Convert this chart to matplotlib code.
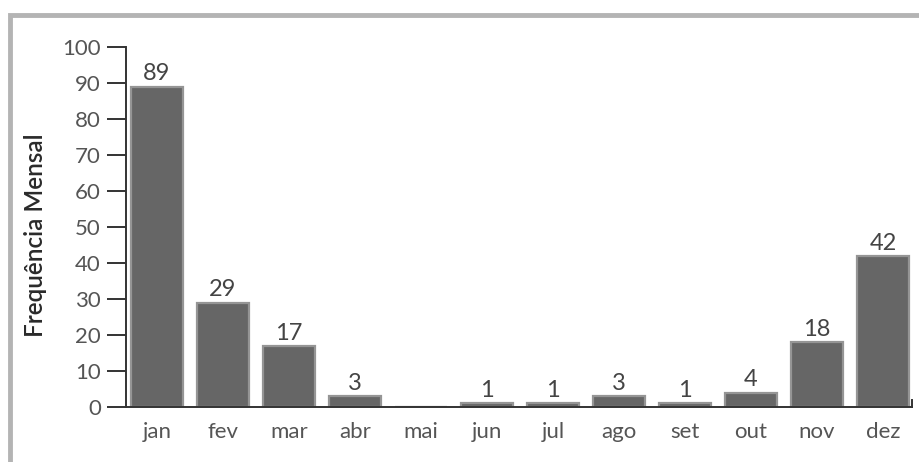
import matplotlib
matplotlib.use('Agg')
import matplotlib.pyplot as plt
from matplotlib.patches import Rectangle

meses = ['jan', 'fev', 'mar', 'abr', 'mai', 'jun', 'jul', 'ago', 'set', 'out', 'nov', 'dez']
frequencia = [89, 29, 17, 3, 0, 1, 1, 3, 1, 4, 18, 42]
yticks = list(range(0, 101, 10))

plt.rcParams['font.family'] = ['Lato', 'DejaVu Sans']

fig = plt.figure(figsize=(9.19, 4.62), dpi=100)
ax = fig.add_axes([126 / 919, 1 - 407 / 462, (912 - 126) / 919, (407 - 47) / 462])

# gray frame around the figure (cut off at right and bottom, like the scan)
fig.patches.append(Rectangle((10 / 919, -0.05), 1.2, (462 - 15) / 462 + 0.05,
                             transform=fig.transFigure, fill=False,
                             edgecolor='#b4b4b4', linewidth=3.5))

x = list(range(len(meses)))
bars = ax.bar(x, frequencia, width=0.78, color='#666666',
              edgecolor='#959595', linewidth=1.6, zorder=2)

for xi, v in zip(x, frequencia):
    if v > 0:
        ax.text(xi, v + 0.6, str(v), ha='center', va='bottom',
                fontsize=17, color='#444444')

ax.set_xlim(-0.47, 11.44)
ax.set_ylim(0, 100)
ax.set_yticks(yticks)
ax.set_xticks(x)
ax.set_xticklabels(meses)

ax.spines['top'].set_visible(False)
ax.spines['right'].set_bounds(0, 2)
for s in ['left', 'bottom', 'right']:
    ax.spines[s].set_color('#333333')
    ax.spines[s].set_linewidth(1.4)

ax.tick_params(axis='y', length=14, width=1.4, color='#333333',
               labelsize=16, labelcolor='#555555', pad=4)
ax.tick_params(axis='x', length=0, labelsize=16, labelcolor='#555555', pad=11)
for lab in ax.get_yticklabels():
    lab.set_clip_on(False)

ax.set_ylabel('Frequência Mensal', fontsize=17.5, color='#2a2a2a', fontweight='semibold')
ax.yaxis.set_label_coords(-0.1, 0.478)

fig.savefig('out.png', dpi=100)
